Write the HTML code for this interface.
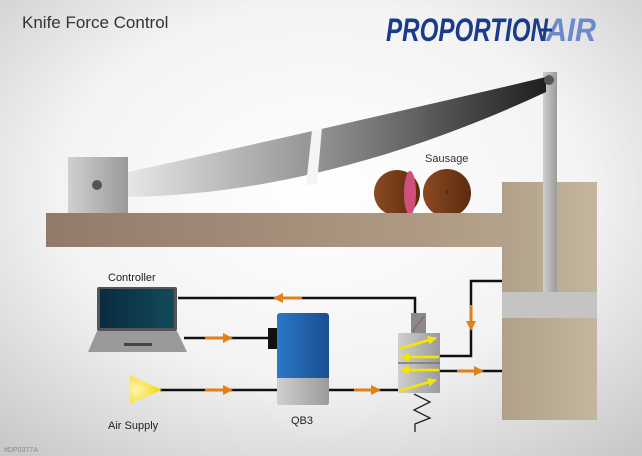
<!DOCTYPE html>
<html><head><meta charset="utf-8"><style>html,body{margin:0;padding:0;width:642px;height:456px;overflow:hidden}</style></head>
<body>
<svg width="642" height="456" viewBox="0 0 642 456" xmlns="http://www.w3.org/2000/svg" font-family="Liberation Sans, sans-serif">
<defs>
<radialGradient id="bg" cx="0.5" cy="0.42" r="0.75">
<stop offset="0" stop-color="#ffffff"/><stop offset="0.55" stop-color="#f3f3f3"/><stop offset="1" stop-color="#c8c8c8"/></radialGradient>
<linearGradient id="blade" x1="0" y1="0" x2="1" y2="0"><stop offset="0" stop-color="#e6e6e6"/><stop offset="0.5" stop-color="#8a8a8a"/><stop offset="1" stop-color="#1e1e1e"/></linearGradient>
<linearGradient id="table" x1="0" y1="0" x2="1" y2="0"><stop offset="0" stop-color="#927a6a"/><stop offset="1" stop-color="#b5a28a"/></linearGradient>
<linearGradient id="cyl" x1="0" y1="0" x2="1" y2="0"><stop offset="0" stop-color="#b0a08a"/><stop offset="1" stop-color="#c4b69e"/></linearGradient>
<linearGradient id="grey" x1="0" y1="0" x2="1" y2="0"><stop offset="0" stop-color="#d0d0d0"/><stop offset="1" stop-color="#9a9a9a"/></linearGradient>
<linearGradient id="saus" x1="0" y1="0" x2="1" y2="0"><stop offset="0" stop-color="#8a4a22"/><stop offset="1" stop-color="#5e2a0e"/></linearGradient>
<linearGradient id="qb" x1="0" y1="0" x2="1" y2="0"><stop offset="0" stop-color="#2a78c8"/><stop offset="1" stop-color="#1a4e90"/></linearGradient>
<linearGradient id="scr" x1="0" y1="0" x2="1" y2="0"><stop offset="0" stop-color="#0a2a40"/><stop offset="1" stop-color="#114a5a"/></linearGradient>
<radialGradient id="yel" cx="0.2" cy="0.5" r="0.8"><stop offset="0" stop-color="#fff6b0"/><stop offset="1" stop-color="#f2d400"/></radialGradient>
<marker id="ar" viewBox="0 0 10 10" refX="5" refY="5" markerWidth="10" markerHeight="10" markerUnits="userSpaceOnUse" orient="auto"><path d="M0,0L10,5L0,10z" fill="#e08018"/></marker>
<marker id="ya" viewBox="0 0 10 10" refX="9" refY="5" markerWidth="9" markerHeight="9" markerUnits="userSpaceOnUse" orient="auto"><path d="M0,0L10,5L0,10z" fill="#f5e600"/></marker>
</defs>
<rect width="642" height="456" fill="url(#bg)"/>
<text x="22" y="28" font-size="17" fill="#333">Knife Force Control</text>
<text x="386" y="41" font-size="32" font-weight="bold" font-style="italic" fill="#1a3a8c" textLength="162" lengthAdjust="spacingAndGlyphs">PROPORTION</text>
<text x="546" y="41" font-size="32" font-weight="bold" font-style="italic" fill="#6a8acc" textLength="50" lengthAdjust="spacingAndGlyphs">AIR</text>
<line x1="540" y1="30" x2="552" y2="30" stroke="#1a3a8c" stroke-width="3"/>
<rect x="543" y="72" width="14" height="220" fill="url(#grey)"/>
<path d="M128,172 Q330,128 546,77 L546,92 C400,160 260,195 128,197 Z" fill="url(#blade)"/>
<path d="M312,130 L322,128 L317,184 L306,185 Z" fill="#f4f4f4"/>
<circle cx="549" cy="80" r="5" fill="#555"/>
<rect x="68" y="157" width="60" height="58" fill="url(#grey)"/>
<circle cx="97" cy="185" r="5" fill="#555"/>
<circle cx="397" cy="193" r="23" fill="url(#saus)"/>
<ellipse cx="410" cy="193" rx="6" ry="22" fill="#d0507a"/>
<circle cx="447" cy="193" r="24" fill="url(#saus)"/>
<circle cx="447" cy="192" r="1.5" fill="#333"/>
<text x="425" y="162" font-size="11" fill="#333">Sausage</text>
<rect x="46" y="213" width="464" height="34" fill="url(#table)"/>
<rect x="502" y="182" width="95" height="238" fill="url(#cyl)"/>
<rect x="502" y="292" width="95" height="26" fill="#c4c4c4"/>
<rect x="543" y="182" width="14" height="110" fill="url(#grey)"/>
<g stroke="#111" stroke-width="2.5" fill="none">
<polyline points="178,298 415,298 415,313"/>
<line x1="184" y1="338" x2="270" y2="338"/>
<line x1="160" y1="390" x2="278" y2="390"/>
<line x1="328" y1="390" x2="399" y2="390"/>
<polyline points="440,356 471,356 471,281 502,281"/>
<line x1="440" y1="371" x2="502" y2="371"/>
</g>
<g stroke="#e08018" stroke-width="3">
<line x1="302" y1="298" x2="278" y2="298" marker-end="url(#ar)"/>
<line x1="205" y1="338" x2="228" y2="338" marker-end="url(#ar)"/>
<line x1="205" y1="390" x2="228" y2="390" marker-end="url(#ar)"/>
<line x1="354" y1="390" x2="376" y2="390" marker-end="url(#ar)"/>
<line x1="471" y1="305" x2="471" y2="326" marker-end="url(#ar)"/>
<line x1="457" y1="371" x2="479" y2="371" marker-end="url(#ar)"/>
</g>
<rect x="97" y="287" width="80" height="44" rx="2" fill="#555"/>
<rect x="100" y="289" width="74" height="39" fill="url(#scr)"/>
<path d="M97,331 L177,331 L187,352 L88,352 Z" fill="#9a9a9a"/>
<rect x="124" y="343" width="28" height="3" fill="#444"/>
<text x="108" y="281" font-size="11" fill="#222">Controller</text>
<path d="M130,375 L162,390 L130,404 Z" fill="url(#yel)"/>
<text x="108" y="429" font-size="11" fill="#222">Air Supply</text>
<rect x="268" y="328" width="10" height="21" fill="#111"/>
<rect x="277" y="313" width="52" height="92" rx="3" fill="url(#qb)"/>
<path d="M277,378 L329,378 L329,402 Q329,405 326,405 L280,405 Q277,405 277,402 Z" fill="url(#grey)"/>
<text x="291" y="424" font-size="11" fill="#222">QB3</text>
<rect x="411" y="313" width="15" height="20" fill="#8a8a8a"/>
<line x1="413" y1="331" x2="424" y2="316" stroke="#a05030" stroke-width="0.8"/>
<rect x="398" y="333" width="42" height="60" fill="url(#grey)"/>
<line x1="398" y1="363" x2="440" y2="363" stroke="#777" stroke-width="1.5"/>
<g stroke="#f5e600" stroke-width="2.5">
<line x1="399" y1="349" x2="436" y2="338" marker-end="url(#ya)"/>
<line x1="439" y1="357" x2="401" y2="357" marker-end="url(#ya)"/>
<line x1="439" y1="370" x2="401" y2="370" marker-end="url(#ya)"/>
<line x1="399" y1="391" x2="436" y2="380" marker-end="url(#ya)"/>
</g>
<polyline points="414,394 430,402 414,410 430,418 415,424 415,432" fill="none" stroke="#222" stroke-width="1.3"/>
<text x="4" y="452" font-size="7" fill="#888">#DP0377A</text>
</svg>
</body></html>
